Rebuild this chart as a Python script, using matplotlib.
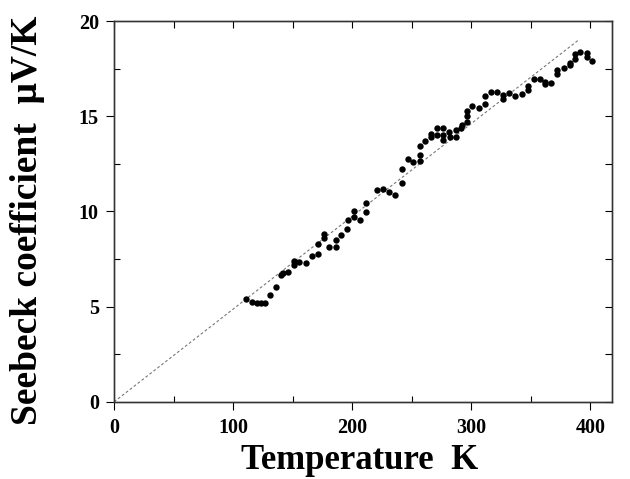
import matplotlib
matplotlib.use("Agg")
import matplotlib.pyplot as plt
from matplotlib.ticker import MultipleLocator

plt.rcParams['font.family'] = ['Liberation Serif', 'DejaVu Serif']
plt.rcParams['font.weight'] = 'bold'

# measured Seebeck coefficient vs temperature
temp = [110.9, 115.7, 119.9, 123.5, 126.9, 131.0, 136.0, 140.3, 141.7, 146.0,
        151.0, 151.0, 155.7, 161.0, 166.4, 171.7, 171.4, 176.2, 176.2, 180.7,
        186.3, 186.6, 191.0, 196.0, 196.4, 201.7, 201.7, 206.2, 211.5, 211.5,
        220.7, 226.3, 230.8, 236.1, 241.5, 241.7, 246.5, 251.0, 256.6, 256.6,
        256.6, 261.0, 266.0, 266.0, 271.0, 271.0, 275.9, 275.9, 275.9, 281.5,
        282.0, 286.8, 286.8, 291.7, 292.0, 296.4, 296.4, 296.4, 301.0, 306.7,
        311.8, 311.8, 316.8, 321.8, 326.9, 326.9, 332.0, 337.0, 342.6, 347.3,
        347.3, 352.4, 358.0, 362.2, 362.2, 367.2, 372.0, 372.0, 377.6, 382.6,
        382.6, 387.1, 387.1, 391.6, 396.9, 396.9, 401.7]
seebeck = [5.40, 5.24, 5.21, 5.21, 5.21, 5.59, 6.03, 6.66, 6.78, 6.80,
           7.17, 7.38, 7.34, 7.27, 7.64, 7.76, 8.27, 8.60, 8.80, 8.15,
           8.15, 8.48, 8.78, 9.10, 9.53, 9.69, 10.02, 9.53, 9.97, 10.45,
           11.12, 11.20, 11.00, 10.87, 11.50, 12.25, 12.78, 12.60, 12.64, 12.97,
           13.44, 13.70, 13.93, 14.06, 14.39, 14.02, 14.39, 14.04, 13.76, 14.16,
           13.90, 13.93, 14.27, 14.37, 14.56, 14.72, 15.03, 15.28, 15.56, 15.42,
           15.66, 16.05, 16.29, 16.29, 15.93, 16.10, 16.24, 16.07, 16.15, 16.40,
           16.60, 16.94, 16.94, 16.80, 16.70, 16.75, 17.20, 17.45, 17.55, 17.67,
           17.78, 18.02, 18.25, 18.40, 18.30, 18.13, 17.92]

# linear guide line through the origin
line_t = [0, 390]
line_s = [0, 19.0]

fig = plt.figure(figsize=(6.3, 4.79), dpi=100)
ax = fig.add_axes([0.181, 0.161, 0.790, 0.795])

ax.plot(line_t, line_s, linestyle=(0, (2.5, 2)), color='#777777', linewidth=0.8)
ax.plot(temp, seebeck, 'o', color='black', markersize=4.6, markeredgewidth=0)

ax.set_xlim(0, 418)
ax.set_ylim(0, 20)
ax.xaxis.set_major_locator(MultipleLocator(100))
ax.xaxis.set_minor_locator(MultipleLocator(50))
ax.yaxis.set_major_locator(MultipleLocator(5))
ax.yaxis.set_minor_locator(MultipleLocator(2.5))
ax.tick_params(which='major', direction='out', length=6, width=0.8, labelsize=14.5)
ax.tick_params(axis='x', which='major', pad=5.5)
ax.tick_params(axis='y', which='major', pad=5)
ax.tick_params(which='minor', direction='in', length=4, width=0.8)
for lab in ax.get_xticklabels() + ax.get_yticklabels():
    lab.set_fontweight('bold')

# top and right axes with inward ticks, no labels
top = ax.twiny()
top.set_xlim(ax.get_xlim())
top.xaxis.set_major_locator(MultipleLocator(50))
top.tick_params(direction='in', length=5, width=0.8, labeltop=False)
right = ax.twinx()
right.set_ylim(ax.get_ylim())
right.yaxis.set_major_locator(MultipleLocator(2.5))
right.tick_params(direction='in', length=5, width=0.8, labelright=False)

for a in (ax, top, right):
    for s in a.spines.values():
        s.set_linewidth(0.9)
        s.set_color('#333333')

fig.text(0.571, 0.004, 'Temperature  K', fontsize=25, fontweight='bold',
         ha='center', va='bottom')
fig.text(0.044, 0.541, 'Seebeck coefficient  \u03bcV/K', fontsize=27, fontweight='bold',
         ha='center', va='center', rotation=90)

fig.savefig('out.png', dpi=100)
